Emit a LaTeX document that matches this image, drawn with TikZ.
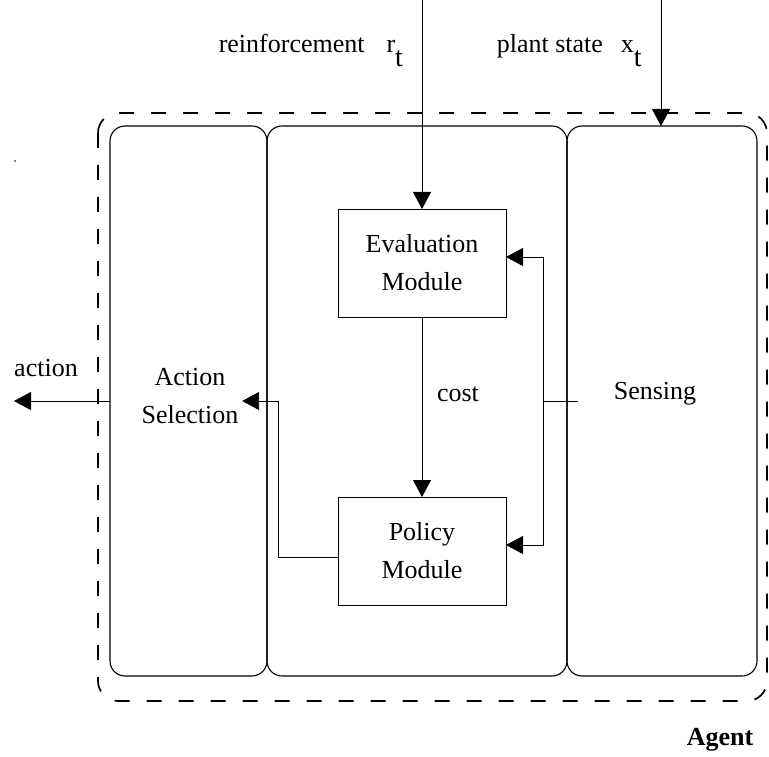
\documentclass[tikz,border=0pt]{standalone}
\usepackage{fontspec}
\setmainfont{Liberation Serif}
\usetikzlibrary{arrows.meta}

\begin{document}
\begin{tikzpicture}[x=1pt,y=-1pt,
    font=\fontsize{26}{38}\selectfont,
    line width=0.9pt,
    panel/.style={draw, line width=1.1pt, rounded corners=15pt, outer sep=0pt,
                  minimum height=550pt, anchor=north west},
    module/.style={draw, outer sep=0pt, minimum width=168pt, minimum height=108pt, align=center},
    arr/.style={-{Triangle[length=17pt,width=18pt]}}]

    \useasboundingbox (0,0) rectangle (769,757);

    % 外框 Agent
    \draw[dash pattern=on 15pt off 17pt, line width=1.7pt, rounded corners=20pt] (98,113) rectangle (767,701);
    \node[font=\fontsize{26}{38}\selectfont\bfseries] (agent) at (720,740) {Agent};

    % 三个区域
    \node[panel, minimum width=157pt] (selpanel) at (110,126) {};
    \node[panel, minimum width=300pt] (midpanel) at (267,126) {};
    \node[panel, minimum width=190pt] (senpanel) at (567,126) {};

    % 文字与模块
    \node[align=center] (sel) at (190,396) {Action\\Selection};
    \node (sensing) at (655,394) {Sensing};
    \node[module] (eval) at (422,263) {Evaluation\\Module};
    \node[module] (policy) at (422,551) {Policy\\Module};
    \node (cost) at (458,394) {cost};
    \node (action) at (46,368) {action};

    % 输入标签
    \node[anchor=base west] (rlab) at (215,53) {reinforcement\hspace{22pt}r\raisebox{-14pt}{\fontsize{28}{38}\selectfont t}};
    \node[anchor=base west] (xlab) at (493,53) {plant state\hspace{18pt}x\raisebox{-14pt}{\fontsize{28}{38}\selectfont t}};

    % 输入箭头
    \coordinate (rtop) at (eval.north |- 0,0);
    \coordinate (xtop) at (661,0);
    \draw[arr] (rtop) -- (eval.north);
    \draw[arr] (xtop) -- (xtop |- senpanel.north);

    % cost
    \draw[arr] (eval) -- (policy);

    % 状态反馈
    \coordinate (tap) at (543,401);
    \coordinate (tapend) at (578,401);
    \draw (tapend) -- (tap);
    \draw[arr] (tap) |- ([yshift=6pt]eval.east);
    \draw[arr] (tap) |- ([yshift=6pt]policy.east);

    % policy -> action selection
    \coordinate (bend) at (278,401);
    \draw[arr] ([yshift=-6pt]policy.west) -| (bend) -- (sel.east |- bend);

    % 输出 action
    \coordinate (actout) at (14,401);
    \draw[arr] (selpanel.west |- bend) -- (actout);

    \fill (15,161) circle (0.8);
\end{tikzpicture}
\end{document}
